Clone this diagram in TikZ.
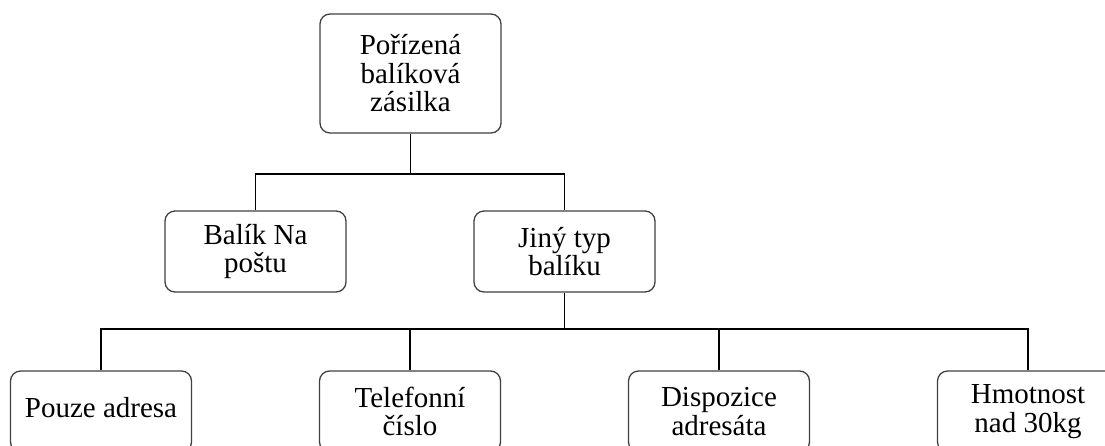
\documentclass[tikz,border=0pt]{standalone}
\usepackage{fontspec}
\setmainfont{Liberation Serif}
\begin{document}
\begin{tikzpicture}[x=1pt,y=-1pt,
  box/.style={draw=black!75, line width=1.3pt, rounded corners=10pt, fill=white,
    minimum width=181pt, inner sep=0pt, align=center,
    font=\fontsize{29}{28.5}\selectfont},
  onerow/.style={box, minimum height=81pt},
  conn/.style={draw=black, line width=1.8pt}]
\useasboundingbox (0,0) rectangle (1105,445);
\node[box, minimum height=119pt] (top) at (410.5,73.5) {Pořízená\\balíková\\zásilka};
\node[onerow] (b1) at (255.5,251.5) {Balík Na\\poštu};
\node[onerow] (b2) at (564.5,251.5) {Jiný typ\\balíku};
\node[onerow] (c1) at (101,411.5) {};
\node (c1t) at (101,407.5) {\fontsize{29}{28.5}\selectfont Pouze adresa};
\node[onerow] (c2) at (410,411.5) {Telefonní\\číslo};
\node[onerow] (c3) at (719,411.5) {Dispozice\\adresáta};
\node[onerow] (c4) at (1028,411.5) {Hmotnost\\nad 30kg};
\coordinate (j1) at (410.5,174);
\coordinate (j2) at (564.5,329);
\draw[conn] (top.south) -- (j1);
\draw[conn] (b1.north) |- (j1);
\draw[conn] (b2.north) |- (j1);
\draw[conn] (b2.south) -- (j2);
\draw[conn] (c1.north) |- (j2);
\draw[conn] (c2.north) |- (j2);
\draw[conn] (c3.north) |- (j2);
\draw[conn] (c4.north) |- (j2);
\end{tikzpicture}
\end{document}
